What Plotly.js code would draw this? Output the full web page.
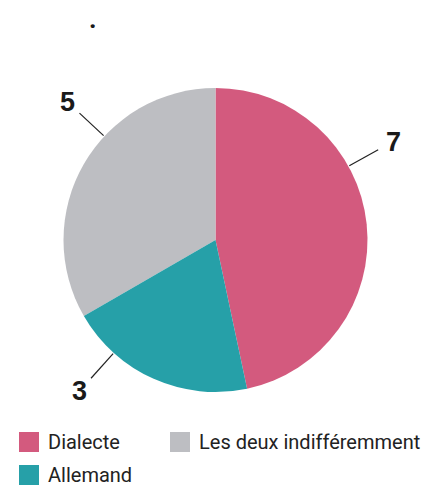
<!DOCTYPE html>
<html>
<head>
<meta charset="utf-8">
<script src="https://cdn.plot.ly/plotly-3.0.1.min.js"></script>
<style>html,body{margin:0;padding:0;background:#fff;}#chart{width:432px;height:489px;}</style>
</head>
<body>
<div id="chart"></div>
<script>
// Data
const labels = ['Dialecte', 'Les deux indifféremment', 'Allemand'];
const values = [7, 5, 3];

// Styles / layout
const colors = ['#D35A7E', '#BDBEC2', '#26A0A8'];
const labelAngles = [61, 313, 222]; // degrees clockwise from 12 o'clock, where each value label sits
const legendPos = [[19, 432], [170, 432], [19, 465]]; // top-left of each legend swatch (px)
const W = 432, H = 489;
const cx = 215.5, cy = 240, R = 152;
const FONT = 'Roboto, "Liberation Sans", sans-serif';

const px = x => x / W;
const py = y => 1 - y / H;

const shapes = [];
const annotations = [];
values.forEach((v, i) => {
  const a = labelAngles[i] * Math.PI / 180;
  const sx = Math.sin(a), sy = -Math.cos(a);
  shapes.push({
    type: 'line', xref: 'paper', yref: 'paper',
    x0: px(cx + sx * (R + 1)), y0: py(cy + sy * (R + 1)),
    x1: px(cx + sx * 186), y1: py(cy + sy * 186),
    line: {color: '#222', width: 1.2}
  });
  annotations.push({
    xref: 'paper', yref: 'paper',
    x: px(cx + sx * 203), y: py(cy + sy * 203),
    xanchor: 'center', yanchor: 'middle',
    text: String(v), showarrow: false,
    font: {family: '"Liberation Sans", Arial, sans-serif', size: 27, color: '#1a1a1a', weight: 'bold'}
  });
});

// Legend (swatch + label per category)
labels.forEach((lab, i) => {
  const [lx, ly] = legendPos[i];
  shapes.push({
    type: 'rect', xref: 'paper', yref: 'paper',
    x0: px(lx), x1: px(lx + 20), y0: py(ly + 20), y1: py(ly),
    fillcolor: colors[i], line: {width: 0}
  });
  annotations.push({
    xref: 'paper', yref: 'paper',
    x: px(lx + 27), y: py(ly + 10),
    xanchor: 'left', yanchor: 'middle',
    text: lab, showarrow: false,
    font: {family: FONT, size: 20, color: '#222'}
  });
});

const trace = {
  type: 'pie',
  labels: labels,
  values: values,
  sort: false,
  direction: 'counterclockwise',
  rotation: 0,
  marker: {colors: colors, line: {width: 0}},
  textinfo: 'none',
  hoverinfo: 'label+value',
  domain: {x: [px(cx - R), px(cx + R)], y: [py(cy + R), py(cy - R)]}
};

const layout = {
  width: W, height: H,
  margin: {l: 0, r: 0, t: 0, b: 0},
  paper_bgcolor: '#fff',
  title: {
    text: '.', xref: 'paper', yref: 'container',
    x: px(89), xanchor: 'left', y: 1 - 28 / H, yanchor: 'bottom',
    font: {family: FONT, size: 26, color: '#1a1a1a', weight: 'bold'}
  },
  showlegend: false,
  shapes: shapes,
  annotations: annotations
};

Plotly.newPlot('chart', [trace], layout, {displayModeBar: false, staticPlot: true});
</script>
</body>
</html>
